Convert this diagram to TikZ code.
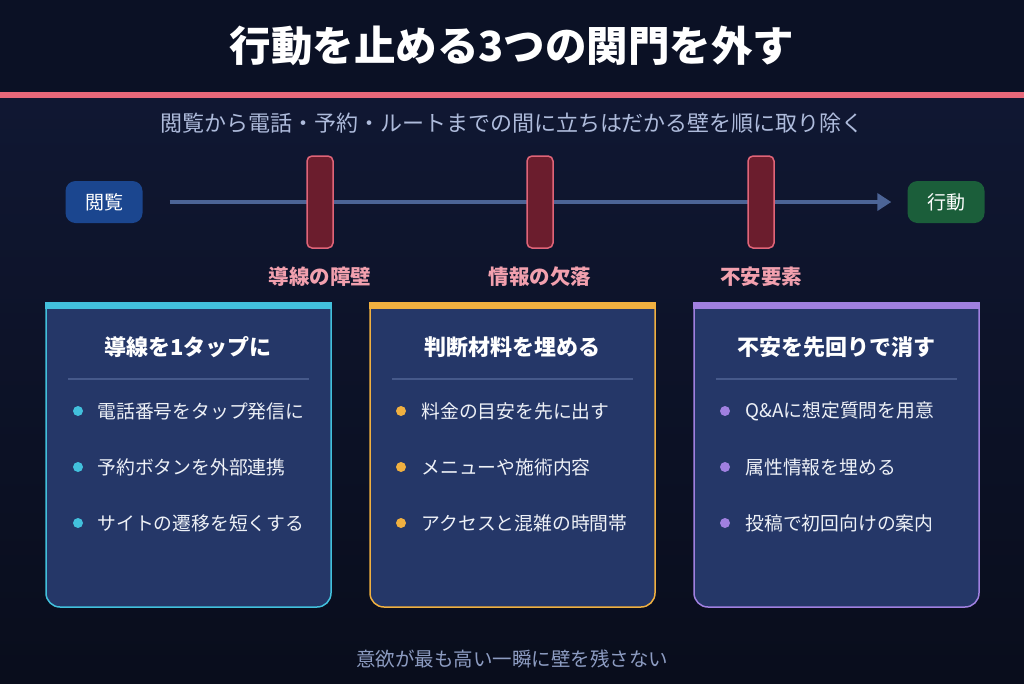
\documentclass[tikz,border=0pt]{standalone}
\usepackage{fontspec}
\setmainfont{Noto Sans CJK JP}
\usepackage{tikz}
\usetikzlibrary{arrows.meta,positioning}
\definecolor{bghead}{HTML}{0B1125}
\definecolor{bgtop}{HTML}{111936}
\definecolor{bgbottom}{HTML}{090D1C}
\definecolor{rule}{HTML}{E8687A}
\definecolor{subtxt}{HTML}{AEBBDB}
\definecolor{foottxt}{HTML}{8D9CC2}
\definecolor{startblue}{HTML}{1B468F}
\definecolor{goalgreen}{HTML}{1B5E3A}
\definecolor{flowline}{HTML}{4C6496}
\definecolor{gatered}{HTML}{6B1D2D}
\definecolor{gatepink}{HTML}{E06478}
\definecolor{gatelabel}{HTML}{F2A0AE}
\definecolor{cardbg}{HTML}{253768}
\definecolor{divider}{HTML}{46598A}
\definecolor{bullettxt}{HTML}{EEF1F7}
\definecolor{acccyan}{HTML}{42C0DC}
\definecolor{accamber}{HTML}{F0B040}
\definecolor{accviolet}{HTML}{A080E0}

\begin{document}
\begin{tikzpicture}[x=1pt, y=-1pt,
    endpt/.style={rectangle, rounded corners=10pt, minimum width=77pt, minimum height=42pt,
                  text=white, font=\fontsize{19}{22}\selectfont},
    gate/.style={rectangle, rounded corners=5pt, minimum width=26pt, minimum height=92pt,
                 fill=gatered, draw=gatepink, line width=1.5pt},
    gatelbl/.style={text=gatelabel, font=\fontsize{20.5}{24}\selectfont\bfseries},
    cardttl/.style={text=white, font=\fontsize{22}{26}\selectfont\bfseries},
    item/.style={anchor=west, text=bullettxt, font=\fontsize{18.8}{22}\selectfont},
    dot/.style={circle, inner sep=0pt, minimum size=10pt, fill=#1},
    flow/.style={-{Triangle[length=14pt, width=17pt]}, line width=4pt, flowline}
]
\useasboundingbox (0,0) rectangle (1024,683);
\shade[top color=bgtop, bottom color=bgbottom] (0,0) rectangle (1024,683);
\fill[bghead] (0,0) rectangle (1024,92);
\fill[rule] (0,92) rectangle (1024,98);

\node[text=white, font=\fontsize{41.5}{48}\selectfont\bfseries] (title) at (512,46)
      {行動を止める3つの関門を外す};
\node[text=subtxt, font=\fontsize{22}{26}\selectfont] (sub) at (512,123)
      {閲覧から電話・予約・ルートまでの間に立ちはだかる壁を順に取り除く};

\node[endpt, fill=startblue] (start) at (104,202) {閲覧};
\node[endpt, fill=goalgreen] (goal) at (946,202) {行動};
\draw[flow, shorten <=27pt, shorten >=16pt] (start) -- (goal);

\node[gate] (gate1) at (320,202) {};
\node[gate] (gate2) at (540,202) {};
\node[gate] (gate3) at (761,202) {};
\node[gatelbl] (lbl1) at (320,277) {導線の障壁};
\node[gatelbl] (lbl2) at (540,277) {情報の欠落};
\node[gatelbl] (lbl3) at (761,277) {不安要素};

\foreach \cx/\acc in {46/acccyan, 370/accamber, 694/accviolet}{
  \filldraw[fill=cardbg, draw=\acc, line width=1.5pt, rounded corners=14pt]
    (\cx,302) -- (\cx,607) -- (\cx+285,607) -- (\cx+285,302);
  \fill[\acc] (\cx-0.75,302) rectangle (\cx+285.75,309);
  \draw[divider, line width=1.5pt] (\cx+22,379) -- (\cx+263,379);
}

\node[cardttl] (ttl1) at (188,347) {導線を1タップに};
\node[dot=acccyan] (d11) at (78,411) {};
\node[item] (t11) at (94,411) {電話番号をタップ発信に};
\node[dot=acccyan] (d12) at (78,467) {};
\node[item] (t12) at (94,467) {予約ボタンを外部連携};
\node[dot=acccyan] (d13) at (78,523) {};
\node[item] (t13) at (94,523) {サイトの遷移を短くする};

\node[cardttl] (ttl2) at (512,347) {判断材料を埋める};
\node[dot=accamber] (d21) at (401,411) {};
\node[item] (t21) at (418,411) {料金の目安を先に出す};
\node[dot=accamber] (d22) at (401,467) {};
\node[item] (t22) at (418,467) {メニューや施術内容};
\node[dot=accamber] (d23) at (401,523) {};
\node[item] (t23) at (418,523) {アクセスと混雑の時間帯};

\node[cardttl] (ttl3) at (836,347) {不安を先回りで消す};
\node[dot=accviolet] (d31) at (725,411) {};
\node[item] (t31) at (742,411) {Q\&Aに想定質問を用意};
\node[dot=accviolet] (d32) at (725,467) {};
\node[item] (t32) at (742,467) {属性情報を埋める};
\node[dot=accviolet] (d33) at (725,523) {};
\node[item] (t33) at (742,523) {投稿で初回向けの案内};

\node[text=foottxt, font=\fontsize{19.5}{23}\selectfont] (foot) at (512,659)
      {意欲が最も高い一瞬に壁を残さない};
\end{tikzpicture}
\end{document}
